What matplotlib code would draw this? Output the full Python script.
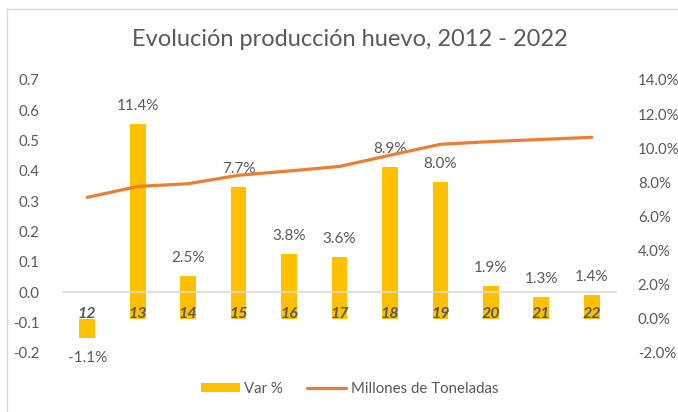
import numpy as np
import matplotlib.pyplot as plt
from matplotlib.patches import Patch
from matplotlib.lines import Line2D

plt.rcParams['font.family'] = ['Lato', 'DejaVu Sans']

years = ['12', '13', '14', '15', '16', '17', '18', '19', '20', '21', '22']
var_pct = [-1.1, 11.4, 2.5, 7.7, 3.8, 3.6, 8.9, 8.0, 1.9, 1.3, 1.4]   # %
millones_ton = [0.313, 0.349, 0.358, 0.386, 0.400, 0.415, 0.452, 0.488, 0.497, 0.504, 0.511]

txt = '#595959'
bar_col = '#FFC000'
line_col = '#ED7D31'

fig = plt.figure(figsize=(6.78, 4.12), dpi=100)
ax = fig.add_axes([62/678, 1 - 353/412, 555/678, 273/412])
ax2 = ax.twinx()

x = np.arange(len(years))

# bars on the secondary (percent) axis
ax2.bar(x, np.array(var_pct) / 100, width=0.31, color=bar_col, zorder=2)
ax2.set_ylim(-0.02, 0.14)
ax2.set_yticks(np.arange(-0.02, 0.1401, 0.02))
ax2.set_yticklabels(['%.1f%%' % (v * 100) for v in np.arange(-0.02, 0.1401, 0.02)])

for i, v in enumerate(var_pct):
    off = 18 if v >= 0 else -20
    ax2.annotate('%.1f%%' % v, (i, v / 100), xytext=(0, off * 0.72),
                 textcoords='offset points', ha='center', va='center',
                 fontsize=11, color=txt)

# line on the primary axis, drawn over the bars
ax.set_zorder(ax2.get_zorder() + 1)
ax.patch.set_visible(False)
ax.plot(x, millones_ton, color=line_col, lw=2.3, solid_capstyle='round', zorder=3)
ax.set_ylim(-0.2, 0.7)
ax.set_yticks(np.arange(-0.2, 0.701, 0.1))
ax.set_yticklabels(['%.1f' % v for v in np.arange(-0.2, 0.701, 0.1)])
ax.axhline(0, color='#d9d9d9', lw=1.2, zorder=1)
ax.set_xlim(-0.5, len(years) - 0.5)
ax.set_xticks([])

for i, yl in enumerate(years):
    ax.text(i, -0.070, yl, ha='center', va='center', fontsize=11.5,
            fontweight='bold', fontstyle='italic', color=txt, zorder=4)

for a in (ax, ax2):
    for s in a.spines.values():
        s.set_visible(False)
    a.tick_params(length=0, labelsize=10.8, labelcolor=txt)
ax.tick_params(axis='y', pad=16)
ax2.tick_params(axis='y', pad=15)

fig.text(0.5155, 1 - 40/412, 'Evolución producción huevo, 2012 - 2022',
         ha='center', va='center', fontsize=17, color=txt)

handles = [Patch(facecolor=bar_col, edgecolor='none'),
           Line2D([0], [0], color=line_col, lw=2.3, solid_capstyle='round')]
leg = fig.legend(handles, ['Var %', 'Millones de Toneladas'], ncol=2,
                 loc='center', bbox_to_anchor=(0.5155, 1 - 389/412),
                 frameon=False, fontsize=10.8, handlelength=2.6,
                 handleheight=0.6, handletextpad=0.3, columnspacing=1.6)
for t in leg.get_texts():
    t.set_color(txt)

# chart border (only top and left edges visible in the screenshot)
fig.add_artist(Line2D([6.5/678, 6.5/678], [0, 1 - 9/412], transform=fig.transFigure,
                      color='#d9d9d9', lw=1))
fig.add_artist(Line2D([6.5/678, 1], [1 - 9/412, 1 - 9/412], transform=fig.transFigure,
                      color='#d9d9d9', lw=1))

fig.savefig('out.png', dpi=100)
